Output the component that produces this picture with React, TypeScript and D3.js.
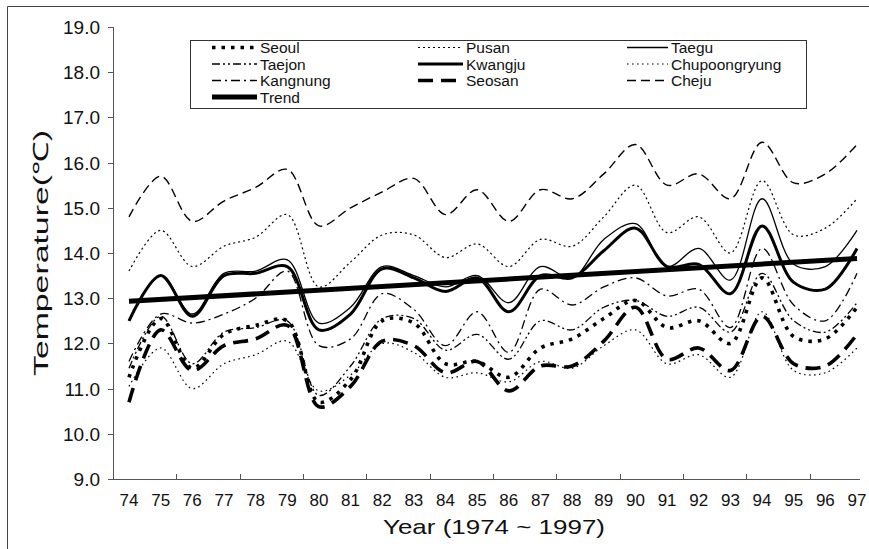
import * as d3 from 'd3';
import { useEffect, useRef } from 'react';

const years = [74, 75, 76, 77, 78, 79, 80, 81, 82, 83, 84, 85, 86, 87, 88, 89, 90, 91, 92, 93, 94, 95, 96, 97];
const yTicks = [9, 10, 11, 12, 13, 14, 15, 16, 17, 18, 19];

const seoul = [11.25, 12.55, 11.45, 12.2, 12.4, 12.5, 10.7, 11.2, 12.5, 12.45, 11.55, 11.6, 11.25, 11.9, 12.1, 12.55, 12.95, 12.35, 12.5, 12.0, 13.45, 12.15, 12.1, 12.8];
const pusan = [13.6, 14.5, 13.7, 14.15, 14.35, 14.85, 13.25, 13.8, 14.4, 14.4, 13.9, 14.2, 13.7, 14.3, 14.15, 14.8, 15.5, 14.45, 14.8, 14.0, 15.6, 14.4, 14.55, 15.2];
const taegu = [12.5, 13.5, 12.65, 13.55, 13.6, 13.85, 12.45, 12.8, 13.7, 13.5, 13.25, 13.5, 12.9, 13.7, 13.45, 14.3, 14.65, 13.7, 14.1, 13.4, 15.2, 13.75, 13.7, 14.5];
const taejon = [11.45, 12.6, 11.55, 12.25, 12.35, 12.5, 10.85, 11.5, 12.55, 12.55, 11.85, 12.2, 11.65, 12.5, 12.3, 12.8, 12.95, 12.6, 12.8, 12.25, 13.55, 12.5, 12.25, 12.9];
const kwangju = [12.5, 13.5, 12.6, 13.5, 13.55, 13.7, 12.3, 12.65, 13.65, 13.45, 13.15, 13.45, 12.7, 13.5, 13.45, 14.05, 14.55, 13.7, 13.75, 13.1, 14.6, 13.35, 13.2, 14.1];
const chupoong = [11.05, 11.9, 11.0, 11.55, 11.75, 12.05, 10.95, 11.3, 12.0, 11.8, 11.25, 11.35, 11.15, 11.6, 11.45, 11.95, 12.3, 11.55, 11.75, 11.25, 12.7, 11.4, 11.35, 11.9];
const kangnung = [11.6, 12.65, 12.45, 12.65, 13.0, 13.6, 11.95, 12.1, 13.1, 12.75, 11.95, 12.7, 11.8, 13.2, 12.85, 13.25, 13.45, 13.05, 13.2, 12.35, 14.1, 12.85, 12.5, 13.55];
const seosan = [10.7, 12.3, 11.4, 11.95, 12.1, 12.4, 10.6, 11.05, 12.05, 11.95, 11.35, 11.6, 10.95, 11.5, 11.5, 12.05, 12.8, 11.65, 11.9, 11.4, 12.6, 11.55, 11.5, 12.2];
const cheju = [14.8, 15.7, 14.7, 15.15, 15.45, 15.85, 14.6, 15.0, 15.35, 15.65, 14.85, 15.4, 14.7, 15.4, 15.2, 15.75, 16.4, 15.5, 15.75, 15.2, 16.45, 15.55, 15.75, 16.4];
const trend = [12.93, 13.88]; // linear trend, first and last year

const series = [
  { name: 'Seoul', values: seoul, width: 3.6, dash: '3.5 6' },
  { name: 'Pusan', values: pusan, width: 1.2, dash: '2 3' },
  { name: 'Taegu', values: taegu, width: 1.3, dash: null },
  { name: 'Taejon', values: taejon, width: 1.3, dash: '8 3 2 3 2 3' },
  { name: 'Kwangju', values: kwangju, width: 3, dash: null },
  { name: 'Chupoongryung', values: chupoong, width: 1.2, dash: '1.6 3.4' },
  { name: 'Kangnung', values: kangnung, width: 1.3, dash: '9 4 2 4' },
  { name: 'Seosan', values: seosan, width: 3.6, dash: '15 8' },
  { name: 'Cheju', values: cheju, width: 1.4, dash: '9 5' },
];

export default function App() {
  const ref = useRef<SVGSVGElement>(null);

  useEffect(() => {
    const width = 869;
    const height = 549;
    const left = 113;
    const right = 860;
    const top = 27;
    const bottom = 479;

    const svg = d3.select(ref.current);
    svg.selectAll('*').remove();

    const x = d3.scaleLinear().domain([74, 97]).range([129, 857]);
    const y = d3.scaleLinear().domain([9, 19]).range([bottom, top]);

    // outer frame
    svg.append('path')
      .attr('d', `M7.5,${height} V6.5 H${width}`)
      .attr('fill', 'none')
      .attr('stroke', '#444')
      .attr('stroke-width', 1);

    /* ---------- AXES ---------- */
    const axes = svg.append('g').attr('stroke', '#555').attr('stroke-width', 1);
    axes.append('line').attr('x1', left + 0.5).attr('x2', left + 0.5).attr('y1', top).attr('y2', bottom);
    axes.append('line').attr('x1', left).attr('x2', right).attr('y1', bottom + 0.5).attr('y2', bottom + 0.5);
    axes.selectAll('.yt').data(yTicks).enter().append('line')
      .attr('x1', left - 5).attr('x2', left)
      .attr('y1', d => Math.round(y(d)) + 0.5).attr('y2', d => Math.round(y(d)) + 0.5);
    const between = d3.range(75.5, 96, 2);
    axes.selectAll('.xt').data(between).enter().append('line')
      .attr('x1', d => Math.round(x(d)) + 0.5).attr('x2', d => Math.round(x(d)) + 0.5)
      .attr('y1', bottom - 5).attr('y2', bottom);

    svg.selectAll('.ylab').data(yTicks).enter().append('text')
      .attr('x', 100).attr('y', d => y(d) + 7)
      .attr('text-anchor', 'end')
      .style('font-family', 'Liberation Sans, Arial, sans-serif')
      .style('font-size', '19px')
      .attr('fill', '#111')
      .text(d => d.toFixed(1));

    svg.selectAll('.xlab').data(years).enter().append('text')
      .attr('x', d => x(d)).attr('y', 506)
      .attr('text-anchor', 'middle')
      .style('font-family', 'Liberation Sans Narrow, Arial Narrow, sans-serif')
      .style('font-size', '17px')
      .attr('fill', '#111')
      .text(d => String(d));

    svg.append('text')
      .attr('x', 494).attr('y', 534)
      .attr('text-anchor', 'middle')
      .attr('textLength', 222)
      .attr('lengthAdjust', 'spacingAndGlyphs')
      .style('font-family', 'Liberation Sans Narrow, Arial Narrow, sans-serif')
      .style('font-size', '21px')
      .attr('fill', '#111')
      .text('Year (1974 ~ 1997)');

    svg.append('text')
      .attr('transform', `translate(48,253) rotate(-90)`)
      .attr('text-anchor', 'middle')
      .attr('textLength', 246)
      .attr('lengthAdjust', 'spacingAndGlyphs')
      .style('font-family', 'Liberation Sans, Arial, sans-serif')
      .style('font-size', '21px')
      .attr('fill', '#111')
      .text('Temperature(℃)');

    /* ---------- LINES ---------- */
    const line = d3.line<number>()
      .x((_, i) => x(years[i]))
      .y(d => y(d))
      .curve(d3.curveCatmullRom.alpha(0.5));

    const plot = svg.append('g').attr('fill', 'none').attr('stroke', '#000');
    series.forEach(s => {
      plot.append('path')
        .attr('d', line(s.values))
        .attr('stroke-width', s.width)
        .attr('stroke-dasharray', s.dash)
        .attr('stroke-linejoin', 'round');
    });

    plot.append('line')
      .attr('x1', x(years[0])).attr('x2', x(years[years.length - 1]))
      .attr('y1', y(trend[0])).attr('y2', y(trend[1]))
      .attr('stroke-width', 5);

    /* ---------- LEGEND ---------- */
    const legend = svg.append('g');
    legend.append('rect')
      .attr('x', 190.5).attr('y', 40.5).attr('width', 616).attr('height', 68)
      .attr('fill', '#fff').attr('stroke', '#333');

    const items = [...series.map(s => ({ name: s.name, width: s.width, dash: s.dash })), { name: 'Trend', width: 5, dash: null }];
    const colX = [[212, 257], [418, 463], [627, 668]];
    const rowY = [47.5, 64, 80.5, 97];
    items.forEach((it, i) => {
      const [x1, x2] = colX[i % 3];
      const yy = rowY[Math.floor(i / 3)];
      legend.append('line')
        .attr('x1', x1).attr('x2', x2).attr('y1', yy).attr('y2', yy)
        .attr('stroke', '#000').attr('stroke-width', it.width)
        .attr('stroke-dasharray', it.dash);
      legend.append('text')
        .attr('x', x2 + 3).attr('y', yy + 5.5)
        .style('font-family', 'Liberation Sans, Arial, sans-serif')
        .style('font-size', '15.5px')
        .attr('fill', '#111')
        .text(it.name);
    });
  }, []);

  return (
    <svg ref={ref} width={869} height={549}
      style={{ position: 'absolute', left: 0, top: 0, background: '#fff' }} />
  );
}
